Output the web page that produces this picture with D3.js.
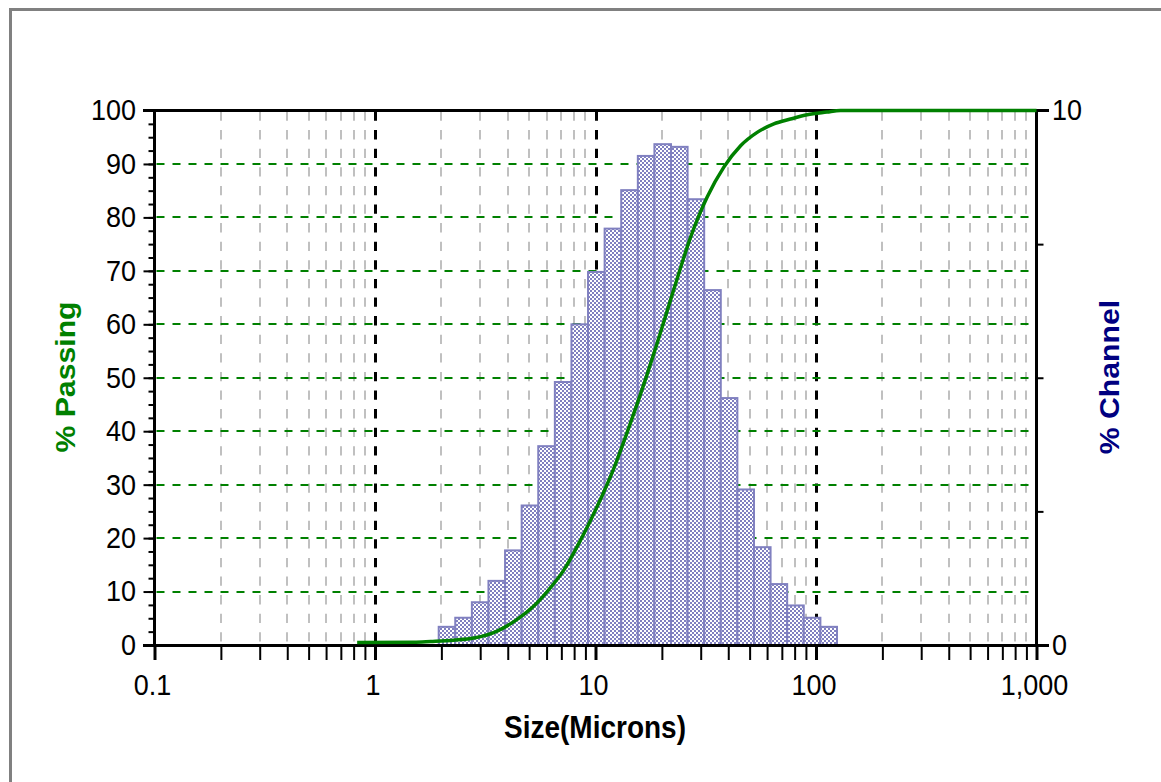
<!DOCTYPE html>
<html>
<head>
<meta charset="utf-8">
<script src="https://cdnjs.cloudflare.com/ajax/libs/d3/7.8.5/d3.min.js"></script>
<style>
  body { margin: 0; background: #fff; }
  svg { display: block; font-family: Arial, "Liberation Sans", sans-serif; }
</style>
</head>
<body>
<div id="chart"></div>
<script>
// channel edges (microns) and % in each channel
var channelSizes = [1.945, 2.312, 2.75, 3.27, 3.889, 4.625, 5.5, 6.541, 7.778, 9.25, 11, 13.08,
    15.56, 18.5, 22, 26.16, 31.11, 37, 44, 52.33, 62.23, 74, 88, 104.7, 124.5];
var channelPct = [0.34, 0.51, 0.80, 1.20, 1.77, 2.61, 3.72, 4.92, 6.00, 6.98, 7.79, 8.51,
    9.15, 9.37, 9.32, 8.34, 6.64, 4.62, 2.91, 1.83, 1.14, 0.74, 0.51, 0.34];

// cumulative % passing curve
var passSizes = [0.83, 1.5, 1.79, 2.27, 2.81, 3.58, 4.41, 5.25, 6.04, 7.18, 8.55, 10.2, 12.1,
    14.4, 17.1, 19.05, 22.65, 27, 32.1, 38.2, 45.5, 54.1, 64.4, 76.6, 91.2, 112, 129, 1000];
var passPct = [0.45, 0.5, 0.65, 0.9, 1.3, 2.6, 4.8, 7.3, 10.0, 14.0, 19.6, 26.0, 33.0,
    41.5, 50.5, 56.5, 66.5, 76.3, 83.8, 89.4, 93.4, 95.9, 97.5, 98.4, 99.2, 99.7, 100, 100];

var xLabelValues = [0.1, 1, 10, 100, 1000];
var xLabels = ["0.1", "1", "10", "100", "1,000"];
var leftTicks = [0, 10, 20, 30, 40, 50, 60, 70, 80, 90, 100];
var rightLabelValues = [0, 10];
var rightMinor = [2.5, 5, 7.5];

var W = 1161, H = 782,
    plotL = 154.5, plotR = 1036.5, plotT = 110.5, plotB = 645,
    stretch = 1.12;   // text in the picture is drawn a bit taller than wide

var svg = d3.select("#chart").append("svg")
    .attr("width", W)
    .attr("height", H);

var x = d3.scaleLog().domain([0.1, 1000]).range([plotL, plotR]),
    y = d3.scaleLinear().domain([0, 100]).range([plotB, plotT]),
    y2 = d3.scaleLinear().domain([0, 10]).range([plotB, plotT]);

// checker fill for the bars
var pat = svg.append("defs").append("pattern")
    .attr("id", "chk")
    .attr("width", 4).attr("height", 4)
    .attr("patternUnits", "userSpaceOnUse");
pat.append("rect").attr("width", 4).attr("height", 4).attr("fill", "#fff");
pat.append("rect").attr("width", 2).attr("height", 2).attr("fill", "#8080c0");
pat.append("rect").attr("x", 2).attr("y", 2).attr("width", 2).attr("height", 2).attr("fill", "#8080c0");

// outer frame
svg.append("rect")
    .attr("x", 10.5).attr("y", 9.5)
    .attr("width", 1200).attr("height", 800)
    .attr("fill", "none")
    .attr("stroke", "#808080")
    .attr("stroke-width", 3);

// vertical grid
var allX = x.ticks().filter(function(d) { return d > 0.1 && d < 1000; });
function isMajor(d) { return Math.abs(Math.log10(d) - Math.round(Math.log10(d))) < 1e-6; }

svg.append("g").selectAll("line")
    .data(allX)
    .enter().append("line")
    .attr("x1", function(d) { return Math.round(x(d)) + (isMajor(d) ? 0.5 : 0); })
    .attr("x2", function(d) { return Math.round(x(d)) + (isMajor(d) ? 0.5 : 0); })
    .attr("y1", plotT + 1).attr("y2", plotB)
    .attr("stroke", function(d) { return isMajor(d) ? "#000" : "#c0c0c0"; })
    .attr("stroke-width", function(d) { return isMajor(d) ? 3 : 2; })
    .attr("stroke-dasharray", "9.3,9.3");

// horizontal grid
svg.append("g").selectAll("line")
    .data(leftTicks.slice(1, -1))
    .enter().append("line")
    .attr("x1", plotL + 2).attr("x2", plotR)
    .attr("y1", function(d) { return Math.round(y(d)); })
    .attr("y2", function(d) { return Math.round(y(d)); })
    .attr("stroke", "#008000")
    .attr("stroke-width", 2)
    .attr("stroke-dasharray", "8,8");

// histogram
svg.append("g").selectAll("rect")
    .data(channelPct)
    .enter().append("rect")
    .attr("x", function(d, i) { return x(channelSizes[i]); })
    .attr("width", function(d, i) { return x(channelSizes[i + 1]) - x(channelSizes[i]); })
    .attr("y", function(d) { return y2(d); })
    .attr("height", function(d) { return y2(0) - y2(d); })
    .attr("fill", "url(#chk)")
    .attr("stroke", "#8080c0")
    .attr("stroke-width", 2);

// axes
var xAxis = svg.append("g")
    .attr("transform", "translate(0," + plotB + ")")
    .call(d3.axisBottom(x).tickValues(x.ticks()).tickSize(15).tickFormat(""));
xAxis.select(".domain").remove();
xAxis.selectAll(".tick line")
    .attr("stroke-width", function(d) { return isMajor(d) ? 3 : 2; });

var yMinor = svg.append("g")
    .attr("transform", "translate(" + plotL + ",0)")
    .call(d3.axisLeft(y).tickValues(d3.range(0, 100.1, 2.5)).tickSize(6).tickFormat(""));
yMinor.select(".domain").remove();
yMinor.selectAll(".tick line").attr("stroke-width", 2);

var yAxis = svg.append("g")
    .attr("transform", "translate(" + plotL + ",0)")
    .call(d3.axisLeft(y).tickValues(leftTicks).tickSize(11).tickFormat(""));
yAxis.select(".domain").remove();
yAxis.selectAll(".tick line").attr("stroke-width", 2);

var y2Axis = svg.append("g")
    .attr("transform", "translate(" + plotR + ",0)")
    .call(d3.axisRight(y2).tickValues(rightMinor).tickSize(7).tickFormat(""));
y2Axis.select(".domain").remove();
y2Axis.selectAll(".tick line").attr("stroke-width", 2);

// axis lines and frame
var frame = svg.append("g").attr("stroke", "#000").attr("stroke-width", 3);
frame.append("line").attr("x1", 143).attr("x2", 1049).attr("y1", plotT).attr("y2", plotT);
frame.append("line").attr("x1", 143).attr("x2", 1049).attr("y1", plotB + 0.5).attr("y2", plotB + 0.5);
frame.append("line").attr("x1", plotL).attr("x2", plotL).attr("y1", plotT).attr("y2", plotB + 2);
frame.append("line").attr("x1", plotR).attr("x2", plotR).attr("y1", plotT).attr("y2", plotB + 2);

// % passing curve
var line = d3.line()
    .x(function(d, i) { return x(passSizes[i]); })
    .y(function(d) { return y(d); })
    .curve(d3.curveMonotoneX);
svg.append("path")
    .datum(passPct)
    .attr("d", line)
    .attr("fill", "none")
    .attr("stroke", "#008000")
    .attr("stroke-width", 3.5);

// tick labels
function label(g, tx, ty, txt, anchor, size, weight) {
    return g.append("text")
        .attr("transform", "translate(" + tx + "," + ty + ") scale(1," + stretch + ")")
        .attr("text-anchor", anchor)
        .attr("dy", "0.36em")
        .style("font-size", size + "px")
        .style("font-weight", weight || "normal")
        .text(txt);
}
var labels = svg.append("g").attr("fill", "#000");
leftTicks.forEach(function(d) { label(labels, 136, y(d) - 1, d, "end", 27); });
rightLabelValues.forEach(function(d) { label(labels, 1052, y2(d) - 1, d, "start", 27); });
xLabelValues.forEach(function(d, i) { label(labels, x(d) - 2, 684, xLabels[i], "middle", 27); });

label(labels, 595, 727, "Size(Microns)", "middle", 28, "bold");

// axis titles
svg.append("text")
    .attr("transform", "translate(75,377) rotate(-90) scale(1.08,1)")
    .attr("text-anchor", "middle")
    .attr("fill", "#008000")
    .style("font-size", "28px")
    .style("font-weight", "bold")
    .text("% Passing");

svg.append("text")
    .attr("transform", "translate(1119,377) rotate(-90) scale(1.08,1)")
    .attr("text-anchor", "middle")
    .attr("fill", "#000080")
    .style("font-size", "28px")
    .style("font-weight", "bold")
    .text("% Channel");
</script>
</body>
</html>
